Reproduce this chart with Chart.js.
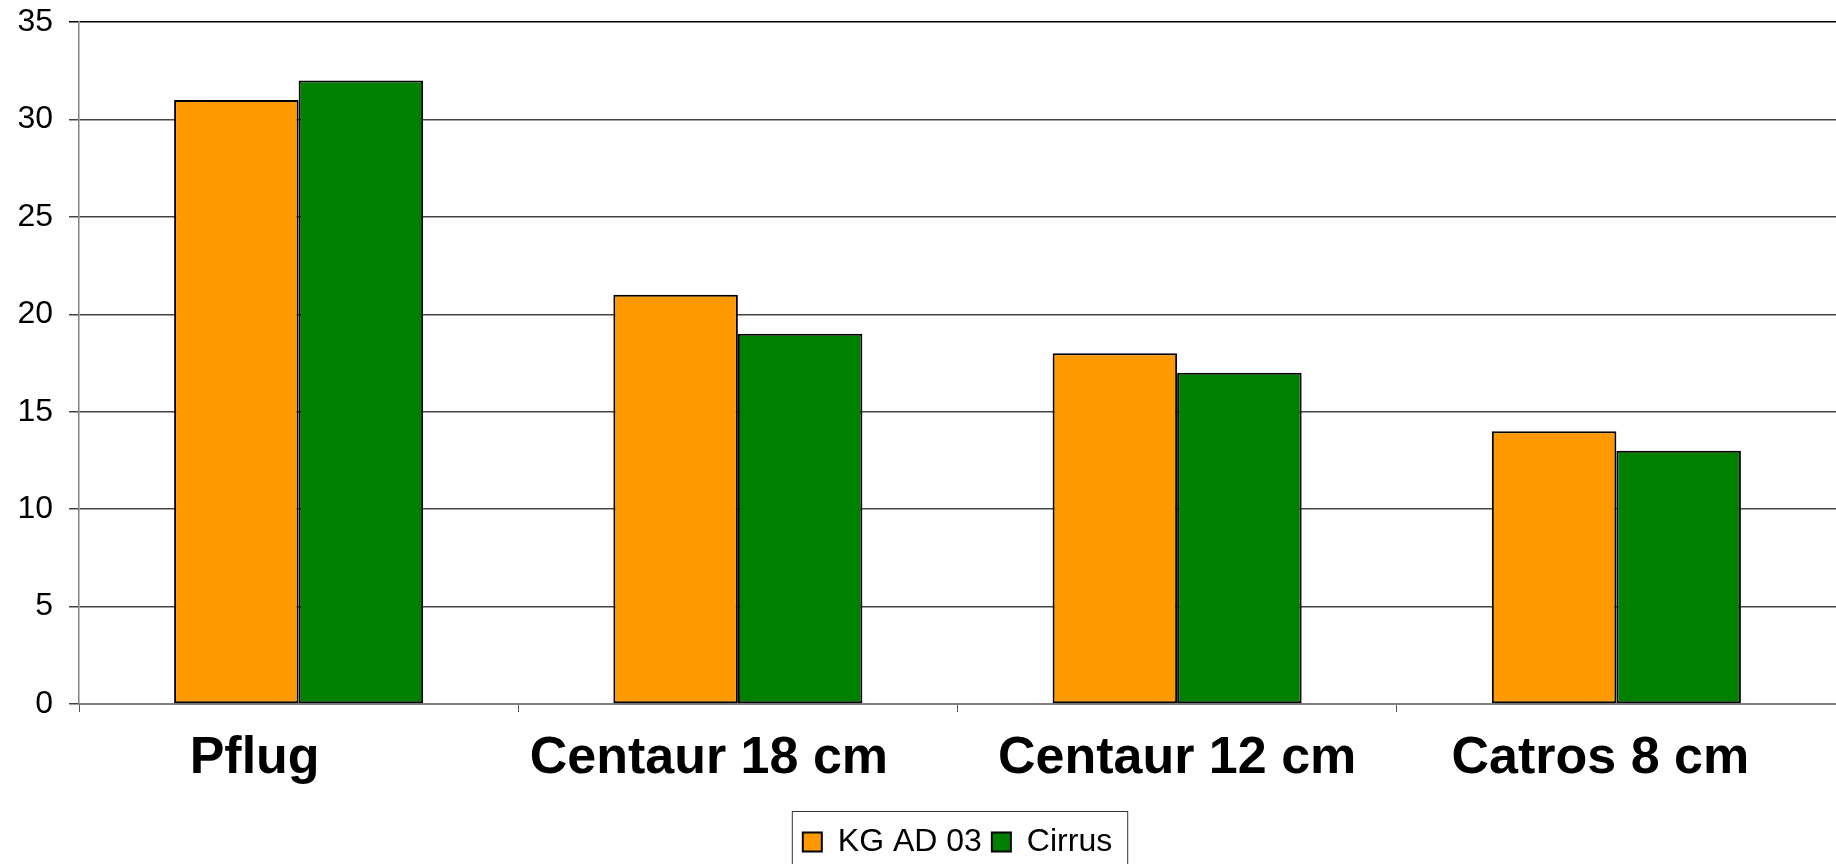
<!DOCTYPE html>
<html lang="de">
<head>
<meta charset="UTF-8" />
<title>Pflug vs Centaur vs Catros</title>
<script src="https://cdn.jsdelivr.net/npm/chart.js"></script>
<style>
  html, body { margin: 0; padding: 0; background: #fff; }
  #wrap { width: 1836px; height: 864px; }
</style>
</head>
<body>
<div id="wrap"><canvas id="chart" width="1836" height="864"></canvas></div>
<script>
// values
const categories = ["Pflug", "Centaur 18 cm", "Centaur 12 cm", "Catros 8 cm"];
const kgAd03 = [31, 21, 18, 14];
const cirrus = [32, 19, 17, 13];
const yMin = 0;
const yMax = 35;
const yStep = 5;

const FONT = "'Liberation Sans', Arial, sans-serif";

// the office chart puts its category labels a bit left of centre
const labelShift = [-44, -29, 0, -16];

// box round the legend
const legendFrame = {
  id: "legendFrame",
  afterDraw(chart) {
    const lg = chart.legend;
    if (!lg || !lg.legendHitBoxes || !lg.legendHitBoxes.length) return;
    const boxes = lg.legendHitBoxes;
    const first = boxes[0];
    const last = boxes[boxes.length - 1];
    const left = first.left - 11;
    const right = last.left + last.width + 15;
    const mid = first.top + first.height / 2;
    const ctx = chart.ctx;
    ctx.save();
    ctx.strokeStyle = "#333";
    ctx.lineWidth = 1;
    ctx.strokeRect(left + 0.5, mid - 31 + 0.5, right - left, 80);
    ctx.restore();
  }
};

// category labels, placed off the x scale's own tick pixels
const xLabels = {
  id: "xLabels",
  afterDraw(chart) {
    const x = chart.scales.x;
    const ctx = chart.ctx;
    ctx.save();
    ctx.fillStyle = "#000";
    ctx.font = "bold 52px " + FONT;
    ctx.textAlign = "center";
    ctx.textBaseline = "alphabetic";
    x.ticks.forEach((t, i) => {
      ctx.fillText(categories[i], x.getPixelForTick(i) + (labelShift[i] || 0), x.top + 69);
    });
    ctx.restore();
  }
};

new Chart(document.getElementById("chart"), {
  type: "bar",
  data: {
    labels: categories,
    datasets: [
      {
        label: "KG AD 03",
        data: kgAd03,
        backgroundColor: "#FF9900",
        borderColor: "#000",
        borderWidth: 2,
        borderSkipped: false
      },
      {
        label: "Cirrus",
        data: cirrus,
        backgroundColor: "#008000",
        borderColor: "#000",
        borderWidth: 2,
        borderSkipped: false
      }
    ]
  },
  options: {
    responsive: false,
    animation: false,
    devicePixelRatio: 1,
    layout: { padding: { top: 22, right: -5, left: 0, bottom: -4 } },
    datasets: { bar: { categoryPercentage: 0.567, barPercentage: 1.0 } },
    plugins: {
      tooltip: { enabled: false },
      legend: {
        position: "bottom",
        fullSize: false,
        labels: {
          color: "#000",
          font: { family: FONT, size: 32 },
          boxWidth: 19,
          boxHeight: 19,
          padding: 10
        }
      }
    },
    scales: {
      x: {
        offset: true,
        grid: {
          offset: true,
          drawOnChartArea: false,
          drawTicks: true,
          tickLength: 8,
          color: "#555"
        },
        border: { color: "#808080", width: 2 },
        ticks: { display: false },
        afterFit(scale) { scale.height = 112; }
      },
      y: {
        min: yMin,
        max: yMax,
        grid: {
          color: (c) => (c.tick && c.tick.value === yMax ? "#000" : "#444"),
          lineWidth: 1.5,
          tickLength: 10
        },
        border: { color: "#808080", width: 1.5 },
        ticks: {
          stepSize: yStep,
          color: "#000",
          padding: 16,
          font: { family: FONT, size: 32 }
        },
        afterFit(scale) {
          scale.width = 79;
          scale.paddingTop = 0;
          scale.paddingBottom = 0;
        }
      }
    }
  },
  plugins: [legendFrame, xLabels]
});
</script>
</body>
</html>
